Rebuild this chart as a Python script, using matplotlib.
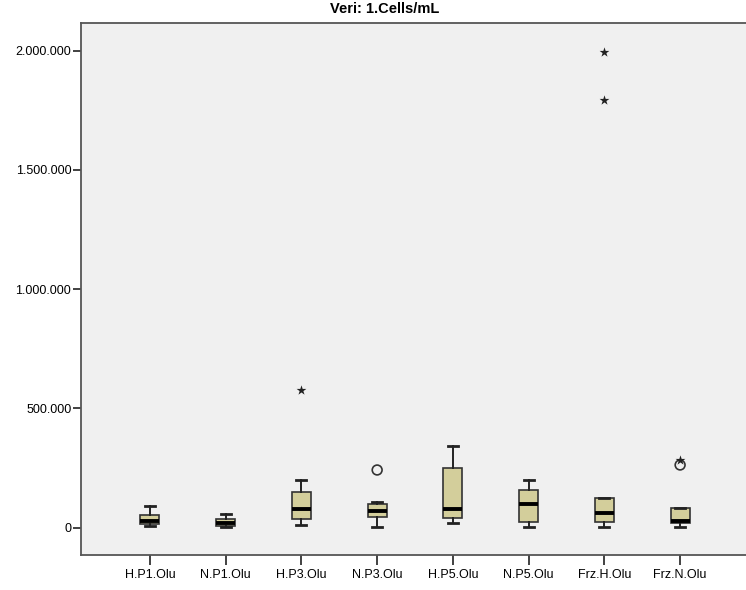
import matplotlib.pyplot as plt
from matplotlib.ticker import FuncFormatter

groups = ["H.P1.Olu", "N.P1.Olu", "H.P3.Olu", "N.P3.Olu",
          "H.P5.Olu", "N.P5.Olu", "Frz.H.Olu", "Frz.N.Olu"]
whis_lo = [6000, 2000, 11000, 4000, 21000, 4000, 1000, 2000]
q1 = [16000, 8000, 35000, 44000, 39000, 23000, 25000, 21000]
median = [30000, 20000, 77000, 70000, 78000, 101000, 60000, 30000]
q3 = [55000, 38000, 151000, 99000, 249000, 158000, 126000, 81000]
whis_hi = [92000, 56000, 200000, 109000, 342000, 200000, 126000, 81000]

# outliers (circles) and extremes (stars), as SPSS marks them
circle_pts = {4: [242000], 8: [263000]}
star_pts = {3: [577000], 7: [1995000, 1793000], 8: [284000]}

yticks = [0, 500000, 1000000, 1500000, 2000000]

plt.rcParams['font.family'] = ['Liberation Sans', 'DejaVu Sans']

fig = plt.figure(figsize=(7.46, 5.90), dpi=100)
ax = fig.add_axes([0.1086, 0.0593, 0.8914, 0.9012])
ax.set_facecolor('#f0f0f0')

stats = []
for i in range(len(groups)):
    stats.append({'label': groups[i], 'whislo': whis_lo[i], 'q1': q1[i],
                  'med': median[i], 'q3': q3[i], 'whishi': whis_hi[i],
                  'fliers': []})

positions = list(range(1, len(groups) + 1))
ax.bxp(stats, positions=positions, widths=0.25, patch_artist=True,
       showfliers=False, capwidths=0.13,
       boxprops=dict(facecolor='#d3ce9b', edgecolor='#333333', linewidth=1.2),
       medianprops=dict(color='black', linewidth=2.8, solid_capstyle='butt'),
       whiskerprops=dict(color='#222222', linewidth=1.4),
       capprops=dict(color='#222222', linewidth=2.0))

for pos, vals in circle_pts.items():
    ax.scatter([pos] * len(vals), vals, s=50, marker='o', facecolors='none',
               edgecolors='#333333', linewidths=1.2, zorder=3)
for pos, vals in star_pts.items():
    ax.scatter([pos] * len(vals), vals, s=55, marker='*', color='#222222',
               linewidths=0, zorder=4)

ax.set_xlim(0.09, 8.87)
ax.set_ylim(-114500, 2115000)
ax.set_yticks(yticks)
ax.yaxis.set_major_formatter(FuncFormatter(lambda v, p: f"{int(v):,}".replace(",", ".")))
ax.set_xticks(positions)
ax.set_xticklabels(groups, fontsize=9)
ax.tick_params(axis='y', labelsize=9, length=6, width=1.3, color='#333333', pad=1)
ax.tick_params(axis='x', length=7, width=1.3, color='#333333', pad=3)

for side in ['left', 'bottom', 'top']:
    ax.spines[side].set_color('#555555')
    ax.spines[side].set_linewidth(1.3)
ax.spines['right'].set_visible(False)

fig.text(0.516, 0.984, "Veri: 1.Cells/mL", ha='center', va='center',
         fontsize=10.5, fontweight='bold')

fig.savefig('out.png', dpi=100, facecolor='white')
